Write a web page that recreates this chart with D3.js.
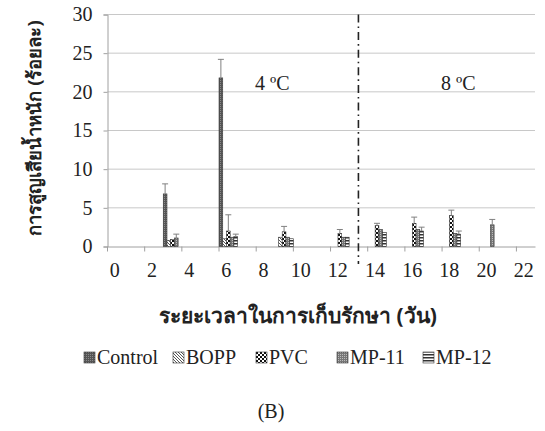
<!DOCTYPE html>
<html><head><meta charset="utf-8">
<script src="https://cdn.jsdelivr.net/npm/d3@7"></script>
<style>body{margin:0;background:#fff}svg{display:block}</style>
</head><body>
<script>
const categories = d3.range(0, 23); // days 0..22 on a category axis
const tickLabels = [0,2,4,6,8,10,12,14,16,18,20,22];
const seriesNames = ["Control","BOPP","PVC","MP-11","MP-12"];
const days = [3, 6, 9, 12, 14, 16, 18, 20];
const controlVals = [6.8, 21.8, 0, 0, 0, 0, 0, 0];
const boppVals    = [0.8, 1.0, 1.2, 0, 0, 0, 0, 0];
const pvcVals     = [0.9, 2.0, 1.9, 1.7, 2.7, 3.0, 4.0, 0];
const mp11Vals    = [1.1, 1.2, 1.2, 1.2, 2.2, 2.2, 1.7, 2.8];
const mp12Vals    = [0, 1.3, 1.0, 1.2, 1.8, 2.0, 1.6, 0];
const controlErr  = [1.3, 2.4, 0, 0, 0, 0, 0, 0];
const boppErr     = [0, 0, 0, 0, 0, 0, 0, 0];
const pvcErr      = [0, 2.1, 0.7, 0.5, 0.3, 0.8, 0.7, 0];
const mp11Err     = [0.5, 0, 0, 0, 0, 0, 0, 0.7];
const mp12Err     = [0, 0.3, 0, 0, 0, 0.5, 0.4, 0];
const yTicks = [0,5,10,15,20,25,30];

const W = 545, H = 431;
const svg = d3.select("body").append("svg").attr("width", W).attr("height", H);
const defs = svg.append("defs");

function pat(id, size, draw){
  const p = defs.append("pattern").attr("id", id).attr("patternUnits","userSpaceOnUse")
    .attr("width", size).attr("height", size);
  draw(p); return `url(#${id})`;
}
const fills = [
  pat("pControl", 2, p => { p.append("rect").attr("width",2).attr("height",2).attr("fill","#555");
    p.append("rect").attr("width",1).attr("height",1).attr("fill","#8a8a8a"); }),
  pat("pBOPP", 3, p => { p.append("rect").attr("width",3).attr("height",3).attr("fill","#fff");
    p.append("path").attr("d","M0,0L3,3M-1,2L1,4M2,-1L4,1").attr("stroke","#444").attr("stroke-width",0.9); }),
  pat("pPVC", 4, p => { p.append("rect").attr("width",4).attr("height",4).attr("fill","#fff");
    p.append("rect").attr("width",2).attr("height",2).attr("fill","#111");
    p.append("rect").attr("x",2).attr("y",2).attr("width",2).attr("height",2).attr("fill","#111"); }),
  pat("pMP11", 2, p => { p.append("rect").attr("width",2).attr("height",2).attr("fill","#777");
    p.append("rect").attr("width",1).attr("height",1).attr("fill","#bbb"); }),
  pat("pMP12", 3, p => { p.append("rect").attr("width",3).attr("height",3).attr("fill","#fff");
    p.append("rect").attr("width",3).attr("height",1.5).attr("fill","#333"); })
];

const x0 = 107.5, x1 = 535, yTop = 14.5, yBot = 246.5;
const x = d3.scaleBand().domain(categories).range([x0, x1]).paddingInner(0).paddingOuter(0);
const xs = d3.scaleBand().domain(seriesNames).range([0, x.bandwidth()]).padding(0);
const y = d3.scaleLinear().domain([0, 30]).range([yBot, yTop]);

const serif = "'Liberation Serif','Times New Roman',serif";
const thai = "'Noto Sans','DejaVu Sans',sans-serif";

svg.append("g").selectAll("line").data(yTicks.filter(d => d > 0)).join("line")
  .attr("x1", x0).attr("x2", x1).attr("y1", d => y(d)).attr("y2", d => y(d))
  .attr("stroke", "#c8c8c8").attr("stroke-width", 1);

const yAxis = svg.append("g").attr("transform", `translate(${x0},0)`)
  .call(d3.axisLeft(y).tickValues(yTicks).tickSize(4).tickPadding(11));
yAxis.select(".domain").attr("stroke", "#a0a0a0");
yAxis.selectAll(".tick line").attr("stroke", "#a0a0a0");
yAxis.selectAll("text").attr("font-family", serif).attr("font-size", 20).attr("fill", "#222");

const xAxis = svg.append("g").attr("transform", `translate(0,${yBot})`)
  .call(d3.axisBottom(x).tickValues(tickLabels).tickSize(0).tickPadding(16));
xAxis.select(".domain").attr("stroke", "#a0a0a0");
xAxis.selectAll("text").attr("font-family", serif).attr("font-size", 20).attr("fill", "#222").attr("dx", -2);
xAxis.selectAll(".tick").append("line")
  .attr("x1", -x.bandwidth()/2).attr("x2", -x.bandwidth()/2).attr("y1", 0).attr("y2", 5)
  .attr("stroke", "#a0a0a0");

const allVals = [controlVals, boppVals, pvcVals, mp11Vals, mp12Vals];
const allErr = [controlErr, boppErr, pvcErr, mp11Err, mp12Err];
const rows = [];
seriesNames.forEach((s, si) => days.forEach((d, di) => {
  if (allVals[si][di] > 0) rows.push({s, si, d, v: allVals[si][di], e: allErr[si][di]});
}));
svg.append("g").selectAll("rect").data(rows).join("rect")
  .attr("x", r => x(r.d) + xs(r.s))
  .attr("width", xs.bandwidth())
  .attr("y", r => y(r.v)).attr("height", r => y(0) - y(r.v))
  .attr("fill", r => fills[r.si]).attr("stroke", "#333").attr("stroke-width", 0.6);

const errRows = rows.filter(r => r.e > 0);
const cx = r => x(r.d) + xs(r.s) + xs.bandwidth()/2;
const gErr = svg.append("g").attr("stroke", "#808080").attr("stroke-width", 1);
gErr.selectAll("line.v").data(errRows).join("line").attr("class","v")
  .attr("x1", cx).attr("x2", cx).attr("y1", r => y(r.v)).attr("y2", r => y(r.v + r.e));
gErr.selectAll("line.c").data(errRows).join("line").attr("class","c")
  .attr("x1", r => cx(r) - 3).attr("x2", r => cx(r) + 3)
  .attr("y1", r => y(r.v + r.e)).attr("y2", r => y(r.v + r.e));

const xDiv = x(13) + x.bandwidth()/2;
svg.append("line").attr("x1", xDiv).attr("x2", xDiv).attr("y1", yTop).attr("y2", 264)
  .attr("stroke", "#222").attr("stroke-width", 1.6).attr("stroke-dasharray", "8,4,1.6,4");

svg.append("text").attr("x", 255).attr("y", 90).attr("font-family", serif).attr("font-size", 20)
  .attr("fill", "#222").text("4 ºC");
svg.append("text").attr("x", 441).attr("y", 90).attr("font-family", serif).attr("font-size", 20)
  .attr("fill", "#222").text("8 ºC");

svg.append("text").attr("transform", `translate(41,128) rotate(-90)`)
  .attr("text-anchor", "middle").attr("font-family", thai).attr("font-size", 18.5).attr("font-weight", "bold")
  .attr("fill", "#222").text("การสูญเสียน้ำหนัก (ร้อยละ)");
svg.append("text").attr("x", 298).attr("y", 323).attr("text-anchor", "middle")
  .attr("font-family", thai).attr("font-size", 21).attr("font-weight", "bold").attr("fill", "#222")
  .text("ระยะเวลาในการเก็บรักษา (วัน)");

const legX = [84, 173, 256, 337, 423];
const leg = svg.append("g");
seriesNames.forEach((s, i) => {
  leg.append("rect").attr("x", legX[i]).attr("y", 352).attr("width", 11).attr("height", 11)
    .attr("fill", fills[i]).attr("stroke", "#333").attr("stroke-width", 0.6);
  leg.append("text").attr("x", legX[i] + 13).attr("y", 364).attr("font-family", serif).attr("font-size", 20)
    .attr("fill", "#222").text(s);
});

svg.append("text").attr("x", 271).attr("y", 418).attr("text-anchor", "middle").attr("font-family", serif)
  .attr("font-size", 20).attr("fill", "#222").text("(B)");
</script>
</body></html>
